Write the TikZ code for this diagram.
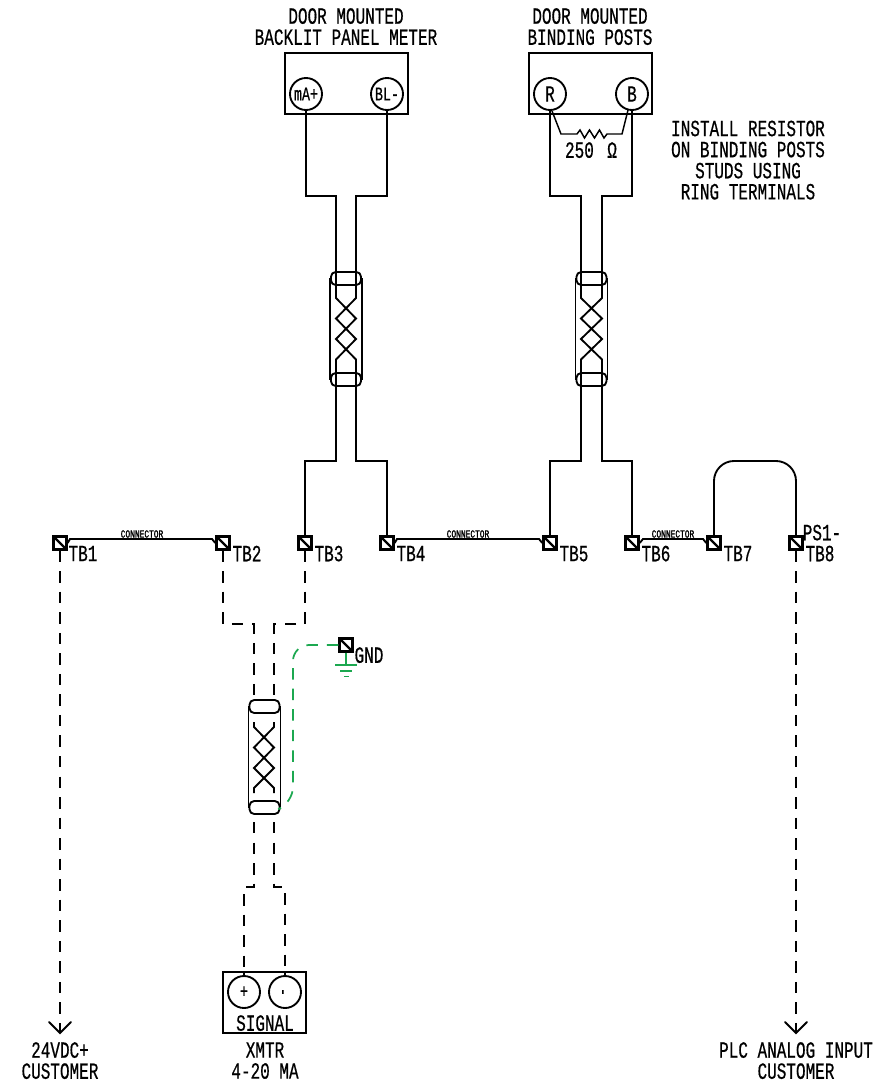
\documentclass[tikz,border=0pt]{standalone}
\usepackage{fontspec}
\usetikzlibrary{calc}
\newfontfamily\cad[FakeStretch=0.69,FakeBold=0.5]{Liberation Mono}
\newfontfamily\cadb[FakeStretch=0.72,FakeBold=1.5]{Liberation Mono}
\newcommand{\fmain}{\cad\fontsize{17.4pt}{17.4pt}\selectfont}
\newcommand{\fmid}{\cad\fontsize{14.5pt}{14.5pt}\selectfont}
\newcommand{\fsmall}{\cadb\fontsize{8.2pt}{8.2pt}\selectfont}
\definecolor{gnd}{RGB}{28,168,80}
\tikzset{
  wire/.style={line width=1.4pt,line join=miter},
  dwire/.style={wire,dash pattern=on 8.6pt off 6.8pt},
  gwire/.style={line width=1.3pt,draw=gnd},
  gdash/.style={gwire,dash pattern=on 8.6pt off 6.8pt},
  lbl/.style={font=\fmain,inner sep=0pt,align=center,text depth=0pt},
  midlbl/.style={font=\fmid,inner sep=0pt},
  connlbl/.style={font=\fsmall,inner sep=0pt},
  panel/.style={draw,line width=1.4pt,fill=white,inner sep=0pt},
  post/.style={circle,draw,line width=1.4pt,fill=white,minimum size=24pt,inner sep=0pt},
  tb/.style={rectangle,draw,line width=2pt,fill=white,minimum size=9.5pt,inner sep=0pt,
    path picture={\draw[line width=1.6pt] (path picture bounding box.north west) -- (path picture bounding box.south east);}},
}
\newcommand{\shieldframe}[2]{%
  \begin{scope}[shift={(#1,#2)}]
    \draw[wire,rounded corners=3.5pt] (-5,0) rectangle (25,13);
    \draw[wire,rounded corners=3.5pt] (-5,101) rectangle (25,114);
    \draw[wire] (-6,6) -- (-6,108);
    \draw[wire] (26,6) -- (26,108);
  \end{scope}}
\begin{document}
\begin{tikzpicture}[x=0.75pt,y=-0.75pt]
\useasboundingbox[fill=white] (0,0) rectangle (882,1086);

% panels
\node[panel,minimum width=92.25pt,minimum height=45.75pt] (meter) at (346.5,83.5) {};
\node[panel,minimum width=92.25pt,minimum height=45.75pt] (bind) at (590.5,83.5) {};
\node[lbl] (t1) at (346,26.5) {DOOR MOUNTED\\[-1.6pt]BACKLIT PANEL METER};
\node[lbl] (t2) at (590,26.5) {DOOR MOUNTED\\[-1.6pt]BINDING POSTS};
\node[lbl] (note) at (748,160) {INSTALL RESISTOR\\[-1.6pt]ON BINDING POSTS\\[-1.6pt]STUDS USING\\[-1.6pt]RING TERMINALS};

% terminals
\foreach \n/\x in {tb1/60,tb2/223,tb3/305,tb4/387,tb5/550,tb6/632,tb7/714,tb8/796}
  \node[tb] (\n) at (\x,543) {};
\node[tb] (tbg) at (346,645) {};

% posts
\coordinate (ma) at (306,94);
\coordinate (bl) at (387,94);
\coordinate (r) at (550,94);
\coordinate (b) at (632,94);

% shield 1 wires
\coordinate (s1a) at (336,196);
\coordinate (s1b) at (356,196);
\coordinate (s1c) at (336,461);
\coordinate (s1d) at (356,461);
\draw[wire] (306,110) |- (s1a) -- (336,298) -- (356,318.5) -- (336,339) -- (356,359.5) -- (s1d) -| (tb4.north);
\draw[wire] (387,110) |- (s1b) -- (356,298) -- (336,318.5) -- (356,339) -- (336,359.5) -- (s1c) -| (tb3.north);
\shieldframe{336}{272}

% shield 2 wires
\coordinate (s2a) at (581,196);
\coordinate (s2b) at (602,196);
\coordinate (s2c) at (581,461);
\coordinate (s2d) at (602,461);
\draw[wire] (r) ++(0,16) |- (s2a) -- (581,298) -- (602,318.5) -- (581,339) -- (602,359.5) -- (s2d) -| (tb6.north);
\draw[wire] (b) ++(0,16) |- (s2b) -- (602,298) -- (581,318.5) -- (602,339) -- (581,359.5) -- (s2c) -| (tb5.north);
\shieldframe{581.5}{272}

% posts on top of wires
\node[post] (nma) at (ma) {};
\node[post] (nbl) at (bl) {};
\node[post] (nr) at (r) {};
\node[post] (nb) at (b) {};
\node[midlbl] (lma) at (ma) {mA+};
\node[midlbl] (lbl) at (bl) {BL-};
\node[lbl] (lr) at (r) {R};
\node[lbl] (lb) at (b) {B};

% resistor
\draw[wire,line width=1.1pt] (nr.south) ++(2,0) -- (561,134) -- (577,134) -- (580,130) -- (584.5,138) -- (589.5,130) -- (594.5,138) -- (599.5,130) -- (604,138) -- (607,134) -- (622,134) -- (628,110);
\node[lbl] (res) at (591,150) {250 \(\,\)Ω};

% jumpers between terminals
\draw[wire] (tb1.east) -- (70,539) -- (212,539) -- (tb2.west);
\draw[wire] (tb4.east) -- (397,539) -- (539,539) -- (tb5.west);
\draw[wire] (tb6.east) -- (643,539) -- (703,539) -- (tb7.west);
\node[connlbl] (c1) at (142,534) {CONNECTOR};
\node[connlbl] (c2) at (468,534) {CONNECTOR};
\node[connlbl] (c3) at (673,534) {CONNECTOR};
\draw[wire,rounded corners=15pt] (tb7.north) -- (714,461) -- (796,461) -- (tb8.north);

% terminal labels
\foreach \n/\t/\x in {l1/TB1/83,l2/TB2/247,l3/TB3/329,l4/TB4/411,l5/TB5/574,l6/TB6/656,l7/TB7/738,l8/TB8/820}
  \node[lbl] (\n) at (\x,553.5) {\t};
\node[lbl] (ps) at (822,532.5) {PS1-};
\node[lbl] (lgnd) at (369,655) {GND};

% dashed field wiring
\coordinate (a1) at (60,1033);
\coordinate (a2) at (796,1033);
\draw[dwire] (tb1.south) -- (a1);
\draw[dwire] (tb8.south) -- (a2);
\draw[wire,line cap=round] (49,1022) -- (a1) -- (71,1022);
\draw[wire,line cap=round] (785,1022) -- (a2) -- (807,1022);
\coordinate (d1) at (254,624);
\coordinate (d2) at (274,624);
\draw[dwire] (tb2.south) |- (d1) -- (254,697);
\draw[dwire] (tb3.south) |- (d2) -- (274,697);

% shield 3
\shieldframe{254.5}{700}
\draw[wire] (254,722) -- (254,727) -- (274,747.5) -- (254,768) -- (274,788) -- (274,793);
\draw[wire] (274,722) -- (274,727) -- (254,747.5) -- (274,768) -- (254,788) -- (254,793);
\coordinate (d3) at (244,887);
\coordinate (d4) at (285,887);
\coordinate (p1) at (244,992);
\coordinate (p2) at (285,992);
\draw[dwire] (254,822) |- (d3) -- (244,972);
\draw[dwire] (274,822) |- (d4) -- (285,972);

% transmitter
\node[panel,minimum width=62pt,minimum height=46pt] (xmtr) at (264.5,1002.5) {};
\draw[wire] (244,972) -- (244,976);
\draw[wire] (285,972) -- (285,976);
\node[post] (np) at (p1) {};
\node[post] (nm) at (p2) {};
\node[midlbl] (plus) at (p1) {+};
\node[midlbl,rotate=90] (minus) at (p2) {-};
\node[lbl] (sig) at (265,1023) {SIGNAL};
\node[lbl] (xl) at (265,1060.5) {XMTR\\[-1.6pt]4-20 MA};
\node[lbl] (c24) at (60,1060.5) {24VDC+\\[-1.6pt]CUSTOMER};
\node[lbl] (plc) at (796,1060.5) {PLC ANALOG INPUT\\[-1.6pt]CUSTOMER};

% ground
\coordinate (gb) at (346,665);
\draw[gwire] (tbg.south) -- (gb);
\draw[gwire] (335,665) -- (357,665);
\draw[gwire] (340,671) -- (352,671);
\draw[gwire] (344,676.5) -- (349,676.5);
\draw[gdash,rounded corners=12pt] (tbg.west) -- (293,645) -- (293,803) -- (281,808);
\end{tikzpicture}
\end{document}
